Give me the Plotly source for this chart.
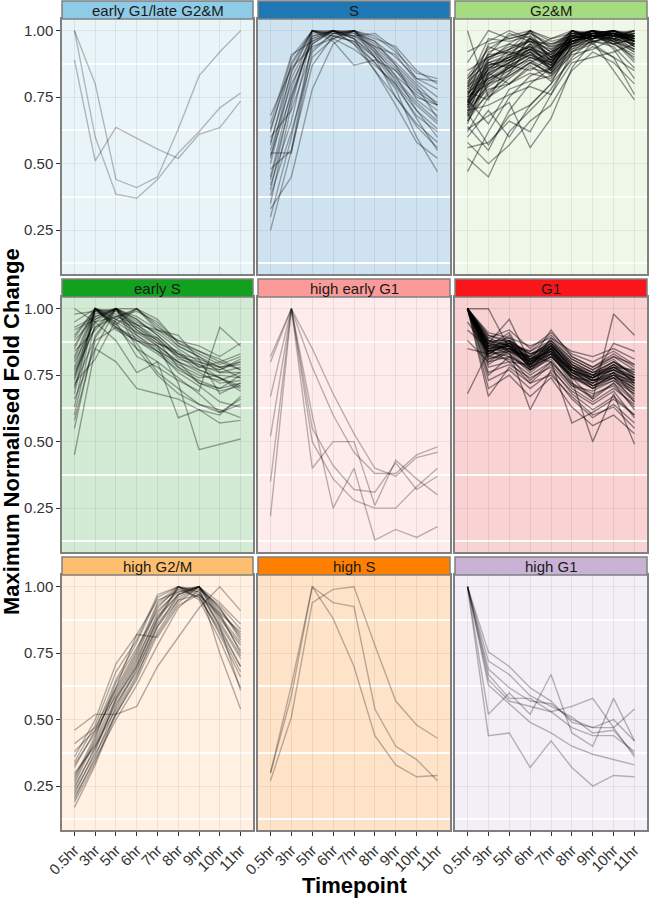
import plotly.graph_objects as go

TIMEPOINTS = ["0.5hr", "3hr", "5hr", "6hr", "7hr", "8hr", "9hr", "10hr", "11hr"]
Y_TICKS = [0.25, 0.50, 0.75, 1.00]
Y_TICK_LABELS = ["0.25", "0.50", "0.75", "1.00"]

EARLY_G1_LATE_G2M = [
    [1.00, 0.80, 0.44, 0.41, 0.45, 0.63, 0.83, 0.92, 1.00],
    [1.00, 0.60, 0.385, 0.37, 0.44, 0.54, 0.62, 0.71, 0.765],
    [0.89, 0.51, 0.636, 0.595, 0.555, 0.52, 0.61, 0.635, 0.735],
]

S_PHASE = [
    [0.25, 0.55, 0.87, 0.98, 1.00, 0.93, 0.83, 0.70, 0.60],
    [0.30, 0.60, 0.95, 1.00, 0.97, 0.90, 0.80, 0.67, 0.55],
    [0.35, 0.72, 1.00, 0.98, 0.96, 0.88, 0.78, 0.60, 0.47],
    [0.40, 0.75, 0.97, 1.00, 0.98, 0.92, 0.85, 0.75, 0.72],
    [0.45, 0.78, 1.00, 0.99, 1.00, 0.95, 0.88, 0.80, 0.72],
    [0.48, 0.55, 0.96, 1.00, 0.95, 0.85, 0.75, 0.65, 0.58],
    [0.50, 0.82, 0.98, 1.00, 0.99, 0.93, 0.86, 0.78, 0.73],
    [0.52, 0.85, 1.00, 0.97, 0.93, 0.87, 0.80, 0.70, 0.63],
    [0.55, 0.80, 0.95, 1.00, 1.00, 0.96, 0.90, 0.82, 0.81],
    [0.57, 0.88, 1.00, 0.98, 0.96, 0.90, 0.82, 0.73, 0.66],
    [0.60, 0.70, 0.93, 0.99, 1.00, 0.97, 0.94, 0.85, 0.80],
    [0.62, 0.90, 1.00, 0.96, 0.87, 0.89, 0.85, 0.77, 0.72],
    [0.65, 0.91, 0.96, 1.00, 0.98, 0.99, 0.93, 0.82, 0.78],
    [0.68, 0.86, 0.94, 0.97, 1.00, 0.98, 0.92, 0.84, 0.82],
    [0.42, 0.66, 0.99, 1.00, 0.97, 0.85, 0.72, 0.58, 0.52],
    [0.38, 0.62, 0.90, 0.97, 1.00, 0.90, 0.75, 0.64, 0.56],
    [0.33, 0.45, 0.78, 0.95, 1.00, 0.92, 0.81, 0.72, 0.65],
    [0.58, 0.84, 1.00, 1.00, 0.97, 0.91, 0.83, 0.76, 0.70],
    [0.54, 0.54, 0.92, 0.99, 1.00, 0.94, 0.87, 0.74, 0.68],
    [0.53, 0.76, 0.97, 1.00, 0.95, 0.88, 0.79, 0.68, 0.62],
    [0.63, 0.87, 1.00, 0.99, 0.98, 0.94, 0.91, 0.81, 0.75],
    [0.44, 0.74, 0.98, 1.00, 0.99, 0.96, 0.87, 0.79, 0.67],
]

G2M = [
    [0.47, 0.62, 0.75, 0.83, 0.86, 0.93, 0.96, 0.95, 0.90],
    [0.52, 0.45, 0.62, 0.70, 0.78, 0.90, 0.97, 1.00, 0.94],
    [0.56, 0.58, 0.66, 0.62, 0.76, 0.92, 0.98, 0.96, 0.88],
    [0.60, 0.70, 0.60, 0.72, 0.80, 0.95, 1.00, 0.93, 0.82],
    [0.62, 0.75, 0.82, 0.88, 0.84, 0.96, 0.98, 0.99, 1.00],
    [0.64, 0.55, 0.70, 0.80, 0.86, 0.97, 1.00, 0.96, 0.92],
    [0.66, 0.80, 0.85, 0.90, 0.87, 0.95, 0.97, 1.00, 0.96],
    [0.67, 0.83, 0.88, 0.93, 0.89, 0.98, 1.00, 0.97, 0.95],
    [0.68, 0.76, 0.84, 0.95, 0.85, 1.00, 0.96, 0.98, 0.93],
    [0.69, 0.86, 0.90, 1.00, 0.88, 0.96, 0.98, 0.95, 0.97],
    [0.70, 0.78, 0.80, 0.84, 0.82, 0.93, 0.99, 1.00, 0.98],
    [0.71, 0.90, 0.93, 0.96, 0.91, 1.00, 0.97, 0.99, 0.94],
    [0.72, 0.82, 0.87, 0.91, 0.86, 0.97, 1.00, 0.98, 0.99],
    [0.72, 0.88, 0.86, 0.98, 0.90, 0.99, 0.95, 1.00, 0.96],
    [0.73, 0.92, 0.95, 1.00, 0.93, 0.97, 0.99, 0.96, 0.98],
    [0.74, 0.84, 0.91, 0.94, 0.87, 1.00, 0.98, 0.97, 0.92],
    [0.75, 0.80, 0.83, 0.88, 0.92, 0.96, 1.00, 0.99, 0.97],
    [0.75, 0.95, 0.97, 0.99, 0.94, 1.00, 0.96, 0.98, 1.00],
    [0.76, 0.87, 0.89, 0.92, 0.85, 0.98, 0.97, 1.00, 0.95],
    [0.77, 0.74, 0.88, 0.97, 0.90, 0.94, 1.00, 0.97, 0.99],
    [0.78, 0.91, 0.92, 0.90, 0.88, 0.99, 1.00, 0.98, 0.96],
    [0.79, 0.85, 0.93, 1.00, 0.96, 0.98, 0.97, 0.99, 0.94],
    [0.80, 0.97, 0.96, 0.98, 0.92, 1.00, 0.98, 0.96, 0.99],
    [0.81, 0.88, 0.90, 0.95, 0.89, 0.97, 0.99, 1.00, 0.98],
    [0.83, 0.93, 0.98, 1.00, 0.97, 0.99, 0.98, 0.97, 1.00],
    [0.85, 0.90, 0.94, 0.96, 0.93, 1.00, 0.99, 0.95, 0.97],
    [0.88, 1.00, 0.97, 0.99, 0.95, 0.98, 1.00, 0.96, 0.93],
    [0.92, 0.96, 1.00, 0.97, 0.94, 0.96, 0.98, 0.99, 0.95],
    [1.00, 0.75, 0.80, 0.86, 0.84, 0.92, 0.95, 0.90, 0.85],
    [0.58, 0.50, 0.57, 0.66, 0.72, 0.85, 0.92, 0.88, 0.80],
    [0.63, 0.68, 0.73, 0.56, 0.67, 0.86, 0.96, 0.94, 0.86],
    [0.69, 0.57, 0.68, 0.72, 0.80, 0.89, 0.94, 0.90, 0.76],
    [0.74, 0.65, 0.78, 0.81, 0.83, 0.91, 0.93, 0.97, 0.89],
    [0.70, 0.72, 0.76, 0.79, 0.76, 0.88, 0.90, 0.92, 0.95],
    [0.65, 0.84, 0.80, 0.87, 0.81, 0.92, 0.96, 0.85, 0.74],
    [0.77, 0.82, 0.86, 0.89, 0.83, 0.94, 0.97, 0.99, 0.96],
    [0.73, 0.89, 0.95, 0.93, 0.97, 1.00, 0.98, 0.95, 0.91],
    [0.79, 0.94, 0.91, 0.97, 0.92, 0.96, 0.99, 1.00, 0.97],
    [0.71, 0.86, 0.87, 0.85, 0.90, 0.95, 1.00, 0.98, 0.99],
    [0.82, 0.91, 0.99, 0.96, 0.95, 0.97, 1.00, 0.99, 0.96],
    [0.70, 0.84, 0.88, 0.92, 0.89, 0.95, 0.98, 0.99, 0.97],
    [0.73, 0.87, 0.90, 0.94, 0.90, 0.97, 0.99, 0.98, 0.98],
    [0.76, 0.85, 0.89, 0.93, 0.88, 0.96, 0.99, 1.00, 0.97],
    [0.68, 0.81, 0.86, 0.91, 0.87, 0.96, 0.98, 0.99, 0.96],
    [0.74, 0.86, 0.90, 0.93, 0.88, 0.97, 0.99, 0.98, 0.97],
    [0.78, 0.84, 0.88, 0.92, 0.87, 0.96, 0.98, 0.99, 0.98],
    [0.72, 0.83, 0.89, 0.95, 0.91, 0.98, 1.00, 0.99, 0.96],
    [0.80, 0.89, 0.92, 0.96, 0.90, 0.99, 0.98, 1.00, 0.99],
    [0.75, 0.82, 0.85, 0.90, 0.86, 0.95, 0.98, 0.97, 0.95],
    [0.69, 0.80, 0.87, 0.91, 0.88, 0.97, 0.99, 0.98, 0.97],
    [0.77, 0.88, 0.91, 0.94, 0.89, 0.98, 1.00, 0.97, 0.98],
    [0.71, 0.79, 0.84, 0.89, 0.85, 0.94, 0.97, 0.99, 0.96],
    [0.82, 0.90, 0.93, 0.97, 0.92, 0.99, 0.99, 0.98, 1.00],
    [0.66, 0.77, 0.83, 0.88, 0.84, 0.94, 0.96, 0.97, 0.93],
    [0.79, 0.87, 0.89, 0.93, 0.91, 0.98, 0.97, 0.99, 0.98],
    [0.73, 0.81, 0.86, 0.92, 0.86, 0.96, 0.99, 1.00, 0.97],
]

EARLY_S = [
    [0.45, 0.85, 0.80, 0.70, 0.68, 0.66, 0.62, 0.57, 0.58],
    [0.55, 0.90, 1.00, 0.92, 0.86, 0.72, 0.47, 0.49, 0.51],
    [0.60, 0.95, 0.88, 0.76, 0.80, 0.59, 0.62, 0.60, 0.67],
    [0.63, 1.00, 0.93, 0.85, 0.80, 0.74, 0.68, 0.61, 0.64],
    [0.66, 0.85, 1.00, 0.93, 0.88, 0.78, 0.72, 0.70, 0.75],
    [0.70, 1.00, 0.95, 0.90, 0.84, 0.80, 0.76, 0.72, 0.73],
    [0.72, 0.81, 0.96, 1.00, 0.92, 0.86, 0.82, 0.78, 0.80],
    [0.74, 1.00, 0.97, 0.94, 0.88, 0.82, 0.77, 0.74, 0.70],
    [0.76, 0.93, 1.00, 0.96, 0.90, 0.83, 0.79, 0.76, 0.78],
    [0.78, 1.00, 0.92, 0.88, 0.83, 0.77, 0.73, 0.70, 0.72],
    [0.80, 0.95, 1.00, 0.95, 0.91, 0.85, 0.80, 0.77, 0.80],
    [0.82, 1.00, 0.94, 1.00, 0.93, 0.88, 0.84, 0.80, 0.83],
    [0.84, 0.92, 1.00, 0.90, 0.85, 0.79, 0.75, 0.73, 0.76],
    [0.86, 1.00, 0.96, 0.93, 0.87, 0.84, 0.78, 0.77, 0.81],
    [0.88, 0.97, 1.00, 0.97, 0.92, 0.88, 0.86, 0.82, 0.87],
    [0.90, 1.00, 0.98, 0.91, 0.86, 0.80, 0.77, 0.74, 0.71],
    [0.92, 0.96, 1.00, 0.94, 0.89, 0.82, 0.80, 0.78, 0.79],
    [0.95, 1.00, 0.93, 0.89, 0.84, 0.78, 0.74, 0.75, 0.74],
    [0.98, 0.99, 1.00, 0.96, 0.90, 0.83, 0.78, 0.80, 0.77],
    [1.00, 0.95, 0.97, 0.99, 0.95, 0.87, 0.83, 0.79, 0.82],
    [0.73, 0.98, 1.00, 0.92, 0.87, 0.83, 0.81, 0.68, 0.72],
    [0.68, 1.00, 0.94, 0.87, 0.76, 0.70, 0.64, 0.61, 0.66],
    [0.77, 0.96, 1.00, 0.85, 0.75, 0.68, 0.64, 0.62, 0.59],
    [0.81, 0.99, 0.95, 0.82, 0.78, 0.73, 0.69, 0.93, 0.86],
    [0.58, 0.88, 0.93, 0.88, 0.84, 0.76, 0.71, 0.65, 0.63],
    [0.85, 1.00, 0.99, 0.94, 0.92, 0.90, 0.81, 0.78, 0.74],
    [0.75, 0.93, 0.97, 1.00, 0.96, 0.87, 0.84, 0.81, 0.77],
    [0.89, 1.00, 0.96, 0.91, 0.89, 0.81, 0.79, 0.74, 0.69],
    [0.71, 0.89, 1.00, 0.88, 0.86, 0.80, 0.72, 0.69, 0.71],
    [0.93, 0.97, 1.00, 1.00, 0.94, 0.86, 0.82, 0.76, 0.76],
]

HIGH_EARLY_G1 = [
    [0.82, 1.00, 0.85, 0.68, 0.53, 0.40, 0.37, 0.44, 0.46],
    [0.80, 1.00, 0.78, 0.60, 0.46, 0.38, 0.38, 0.45, 0.48],
    [0.67, 1.00, 0.55, 0.41, 0.32, 0.31, 0.42, 0.32, 0.37],
    [0.52, 1.00, 0.40, 0.50, 0.50, 0.26, 0.43, 0.36, 0.30],
    [0.35, 1.00, 0.60, 0.25, 0.40, 0.13, 0.17, 0.14, 0.18],
    [0.22, 1.00, 0.50, 0.36, 0.28, 0.25, 0.25, 0.33, 0.40],
]

G1 = [
    [1.00, 0.85, 0.88, 0.80, 0.86, 0.78, 0.74, 0.78, 0.72],
    [1.00, 0.82, 0.85, 0.78, 0.84, 0.76, 0.72, 0.76, 0.70],
    [1.00, 0.88, 0.86, 0.82, 0.88, 0.80, 0.76, 0.80, 0.75],
    [1.00, 0.84, 0.90, 0.79, 0.85, 0.74, 0.73, 0.75, 0.73],
    [1.00, 0.86, 0.83, 0.76, 0.82, 0.75, 0.70, 0.74, 0.68],
    [1.00, 0.90, 0.87, 0.84, 0.90, 0.82, 0.78, 0.82, 0.77],
    [1.00, 0.80, 0.82, 0.77, 0.81, 0.71, 0.69, 0.73, 0.66],
    [1.00, 0.87, 0.89, 0.81, 0.87, 0.79, 0.75, 0.77, 0.74],
    [1.00, 0.83, 0.84, 0.80, 0.83, 0.77, 0.74, 0.79, 0.76],
    [1.00, 0.89, 0.92, 0.85, 0.91, 0.83, 0.80, 0.84, 0.79],
    [1.00, 0.78, 0.80, 0.72, 0.79, 0.70, 0.65, 0.70, 0.64],
    [1.00, 0.85, 0.86, 0.79, 0.86, 0.78, 0.73, 0.77, 0.71],
    [1.00, 0.91, 0.89, 0.86, 0.89, 0.84, 0.82, 0.85, 0.81],
    [1.00, 0.76, 0.79, 0.74, 0.78, 0.68, 0.62, 0.67, 0.60],
    [1.00, 0.84, 0.87, 0.83, 0.85, 0.76, 0.71, 0.75, 0.69],
    [1.00, 1.00, 0.85, 0.81, 0.84, 0.77, 0.73, 0.74, 0.72],
    [1.00, 0.73, 0.77, 0.70, 0.76, 0.66, 0.59, 0.64, 0.57],
    [1.00, 0.86, 0.91, 0.78, 0.89, 0.81, 0.77, 0.81, 0.74],
    [1.00, 0.82, 0.81, 0.75, 0.80, 0.72, 0.68, 0.71, 0.63],
    [1.00, 0.88, 0.84, 0.82, 0.87, 0.79, 0.75, 0.80, 0.76],
    [1.00, 0.70, 0.75, 0.67, 0.74, 0.63, 0.56, 0.60, 0.53],
    [1.00, 0.87, 0.96, 0.80, 0.92, 0.82, 0.78, 0.83, 0.78],
    [1.00, 0.81, 0.83, 0.77, 0.82, 0.74, 0.70, 0.76, 0.67],
    [1.00, 0.85, 0.80, 0.79, 0.83, 0.72, 0.66, 0.72, 0.62],
    [1.00, 0.67, 0.78, 0.72, 0.75, 0.67, 0.60, 0.63, 0.55],
    [1.00, 0.90, 0.88, 0.83, 0.87, 0.80, 0.76, 0.78, 0.77],
    [1.00, 0.79, 0.84, 0.62, 0.77, 0.69, 0.64, 0.69, 0.59],
    [1.00, 0.84, 0.86, 0.80, 0.84, 0.73, 0.50, 0.68, 0.49],
    [0.85, 0.83, 0.87, 0.81, 0.84, 0.75, 0.72, 0.78, 0.74],
    [0.68, 0.84, 0.82, 0.78, 0.82, 0.74, 0.66, 0.98, 0.90],
    [1.00, 0.86, 0.85, 0.82, 0.80, 0.57, 0.61, 0.66, 0.60],
    [1.00, 0.83, 0.88, 0.77, 0.85, 0.77, 0.71, 0.74, 0.65],
    [0.88, 0.80, 0.85, 0.79, 0.86, 0.79, 0.74, 0.77, 0.73],
    [1.00, 0.89, 0.86, 0.84, 0.88, 0.81, 0.77, 0.82, 0.79],
    [1.00, 0.75, 0.82, 0.73, 0.80, 0.71, 0.67, 0.72, 0.65],
    [1.00, 0.87, 0.84, 0.79, 0.83, 0.76, 0.74, 0.87, 0.84],
    [1.00, 0.82, 0.86, 0.78, 0.82, 0.75, 0.71, 0.75, 0.70],
    [1.00, 0.86, 0.87, 0.81, 0.86, 0.78, 0.75, 0.78, 0.73],
    [1.00, 0.84, 0.85, 0.79, 0.85, 0.76, 0.73, 0.76, 0.71],
    [1.00, 0.88, 0.86, 0.80, 0.87, 0.77, 0.74, 0.79, 0.72],
    [1.00, 0.85, 0.86, 0.80, 0.85, 0.77, 0.74, 0.77, 0.73],
    [1.00, 0.83, 0.87, 0.79, 0.84, 0.76, 0.72, 0.75, 0.70],
    [1.00, 0.87, 0.85, 0.81, 0.86, 0.78, 0.75, 0.79, 0.74],
    [0.95, 0.84, 0.86, 0.78, 0.83, 0.74, 0.71, 0.74, 0.69],
    [1.00, 0.86, 0.88, 0.82, 0.88, 0.79, 0.76, 0.80, 0.75],
    [1.00, 0.81, 0.84, 0.77, 0.83, 0.75, 0.70, 0.73, 0.68],
    [0.92, 0.85, 0.87, 0.80, 0.85, 0.77, 0.73, 0.76, 0.72],
    [1.00, 0.88, 0.88, 0.83, 0.86, 0.78, 0.74, 0.78, 0.74],
]

HIGH_G2M = [
    [0.17, 0.33, 0.52, 0.66, 0.85, 0.97, 1.00, 0.90, 0.75],
    [0.20, 0.36, 0.55, 0.70, 0.88, 1.00, 0.98, 0.85, 0.70],
    [0.22, 0.38, 0.58, 0.72, 0.90, 0.99, 1.00, 0.88, 0.78],
    [0.24, 0.40, 0.56, 0.68, 0.86, 0.96, 1.00, 0.92, 0.81],
    [0.26, 0.42, 0.60, 0.74, 0.92, 1.00, 0.97, 0.82, 0.66],
    [0.28, 0.44, 0.62, 0.76, 0.94, 1.00, 0.95, 0.80, 0.62],
    [0.30, 0.40, 0.54, 0.69, 0.85, 0.95, 1.00, 0.89, 0.79],
    [0.32, 0.46, 0.65, 0.79, 0.96, 1.00, 0.96, 0.84, 0.70],
    [0.34, 0.48, 0.68, 0.80, 0.97, 1.00, 0.98, 0.86, 0.73],
    [0.36, 0.50, 0.71, 0.82, 0.95, 0.98, 1.00, 0.91, 0.82],
    [0.21, 0.35, 0.50, 0.63, 0.78, 0.92, 0.99, 0.93, 0.84],
    [0.23, 0.37, 0.52, 0.65, 0.82, 0.94, 1.00, 0.87, 0.74],
    [0.38, 0.46, 0.59, 0.73, 0.89, 0.97, 1.00, 0.92, 0.80],
    [0.41, 0.47, 0.62, 0.82, 0.81, 0.93, 0.97, 0.89, 0.76],
    [0.46, 0.52, 0.52, 0.55, 0.70, 0.81, 0.92, 1.00, 0.91],
    [0.27, 0.43, 0.64, 0.77, 0.91, 0.98, 1.00, 0.75, 0.54],
    [0.19, 0.34, 0.53, 0.67, 0.83, 0.95, 0.97, 0.90, 0.83],
    [0.33, 0.45, 0.61, 0.75, 0.93, 0.99, 0.96, 0.83, 0.68],
    [0.25, 0.39, 0.57, 0.71, 0.88, 0.97, 1.00, 0.94, 0.86],
    [0.29, 0.41, 0.58, 0.70, 0.87, 1.00, 0.99, 0.85, 0.61],
]

HIGH_S = [
    [0.30, 0.59, 1.00, 0.88, 0.70, 0.44, 0.33, 0.285, 0.29],
    [0.27, 0.51, 0.94, 0.99, 1.00, 0.78, 0.57, 0.48, 0.43],
    [0.30, 0.63, 1.00, 0.94, 0.925, 0.54, 0.40, 0.35, 0.27],
]

HIGH_G1 = [
    [1.00, 0.755, 0.70, 0.62, 0.57, 0.49, 0.47, 0.50, 0.42],
    [1.00, 0.72, 0.67, 0.59, 0.55, 0.51, 0.45, 0.46, 0.37],
    [1.00, 0.69, 0.62, 0.57, 0.56, 0.50, 0.47, 0.47, 0.36],
    [1.00, 0.65, 0.57, 0.55, 0.53, 0.55, 0.58, 0.47, 0.54],
    [1.00, 0.63, 0.56, 0.49, 0.45, 0.40, 0.37, 0.35, 0.33],
    [1.00, 0.52, 0.60, 0.52, 0.67, 0.45, 0.40, 0.58, 0.42],
    [1.00, 0.44, 0.45, 0.32, 0.42, 0.32, 0.25, 0.29, 0.285],
    [1.00, 0.67, 0.58, 0.58, 0.53, 0.47, 0.44, 0.44, 0.38],
]

PANEL_TITLES = ["early G1/late G2&M", "S", "G2&M",
                "early S", "high early G1", "G1",
                "high G2/M", "high S", "high G1"]
PANEL_DATA = [EARLY_G1_LATE_G2M, S_PHASE, G2M,
              EARLY_S, HIGH_EARLY_G1, G1,
              HIGH_G2M, HIGH_S, HIGH_G1]
STRIP_COLORS = ["#8ECBE6", "#1F78B4", "#A6DC80",
                "#12A01F", "#FB9A99", "#F8161B",
                "#FDBF6F", "#FF7F00", "#CAB2D6"]
BG_COLORS = ["#E9F4F9", "#CFE2EF", "#EFF8E8",
             "#D3EBD4", "#FEEBEB", "#F9D2D4",
             "#FFF0E1", "#FFE3C9", "#F3EFF6"]
LINE_ALPHA = [0.25, 0.32, 0.42, 0.34, 0.27, 0.45, 0.3, 0.27, 0.27]

W, H = 650, 899
COLS = [(62, 253), (258, 450), (455, 647)]
ROWS_PANEL = [(19, 274), (297, 552), (575, 830)]
ROWS_STRIP = [(1, 19), (279, 297), (557, 575)]


def px_x(v):
    return v / W


def px_y(v):
    return 1 - v / H


fig = go.Figure()
layout = dict(width=W, height=H, margin=dict(l=0, r=0, t=0, b=0, autoexpand=False),
              paper_bgcolor="white", plot_bgcolor="rgba(0,0,0,0)",
              showlegend=False, font=dict(family="Liberation Sans, Arial, sans-serif", color="#222"))
shapes = []
annotations = []

for k in range(9):
    r, c = divmod(k, 3)
    sfx = "" if k == 0 else str(k + 1)
    xa, ya = "x" + sfx, "y" + sfx
    for series in PANEL_DATA[k]:
        fig.add_trace(go.Scatter(x=TIMEPOINTS, y=series, mode="lines", xaxis=xa, yaxis=ya,
                                 line=dict(color=f"rgba(0,0,0,{LINE_ALPHA[k]})", width=1.4),
                                 hoverinfo="skip", showlegend=False))
    x0, x1 = COLS[c]
    t, b = ROWS_PANEL[r]
    layout["xaxis" + sfx] = dict(
        domain=[px_x(x0), px_x(x1)], anchor=ya, type="category", automargin=False,
        categoryorder="array", categoryarray=TIMEPOINTS, range=[-0.6, 8.6],
        showgrid=True, gridcolor="rgba(0,0,0,0.07)", gridwidth=0.8,
        showline=True, mirror=True, linecolor="#808080", linewidth=1.5,
        zeroline=False, showticklabels=(r == 2), ticks="outside" if r == 2 else "",
        ticklen=4, tickwidth=1.2, tickcolor="#333", tickangle=-45,
        tickfont=dict(size=15, color="#333"))
    layout["yaxis" + sfx] = dict(
        domain=[px_y(b), px_y(t)], anchor=xa, range=[0.085, 1.044], automargin=False,
        tickvals=Y_TICKS, ticktext=Y_TICK_LABELS,
        showgrid=True, gridcolor="rgba(0,0,0,0.06)", gridwidth=0.8,
        minor=dict(tickvals=[0.125, 0.375, 0.625, 0.875], showgrid=True,
                   gridcolor="rgba(255,255,255,0.9)", gridwidth=2, ticks=""),
        showline=True, mirror=True, linecolor="#808080", linewidth=1.5,
        zeroline=False, showticklabels=(c == 0), ticks="outside" if c == 0 else "",
        ticklen=4, tickwidth=1.2, tickcolor="#333",
        tickfont=dict(size=15, color="#333"))
    shapes.append(dict(type="rect", xref=xa + " domain", yref=ya + " domain",
                       x0=0, x1=1, y0=0, y1=1, fillcolor=BG_COLORS[k],
                       line=dict(width=0), layer="below"))
    st, sb = ROWS_STRIP[r]
    shapes.append(dict(type="rect", xref="paper", yref="paper",
                       x0=px_x(x0), x1=px_x(x1), y0=px_y(sb), y1=px_y(st),
                       fillcolor=STRIP_COLORS[k], line=dict(color="#808080", width=1.5)))
    annotations.append(dict(text=PANEL_TITLES[k], xref="paper", yref="paper",
                            x=px_x((x0 + x1) / 2), y=px_y((st + sb) / 2),
                            xanchor="center", yanchor="middle", showarrow=False,
                            font=dict(size=15, color="#1a1a1a")))

annotations.append(dict(text="<b>Maximum Normalised Fold Change</b>", xref="paper", yref="paper",
                        x=px_x(11), y=px_y(432), textangle=-90, showarrow=False,
                        xanchor="center", yanchor="middle",
                        font=dict(size=22, color="#000")))
annotations.append(dict(text="<b>Timepoint</b>", xref="paper", yref="paper",
                        x=px_x(355), y=px_y(885), showarrow=False,
                        xanchor="center", yanchor="middle",
                        font=dict(size=22, color="#000")))

layout["shapes"] = shapes
layout["annotations"] = annotations
fig.update_layout(**layout)
# drop the browser's default 8px page margin so the 650x899 figure fills the window exactly
fig.write_html("out.html", config={"displayModeBar": False},
               post_script="document.body.style.margin='0';")
